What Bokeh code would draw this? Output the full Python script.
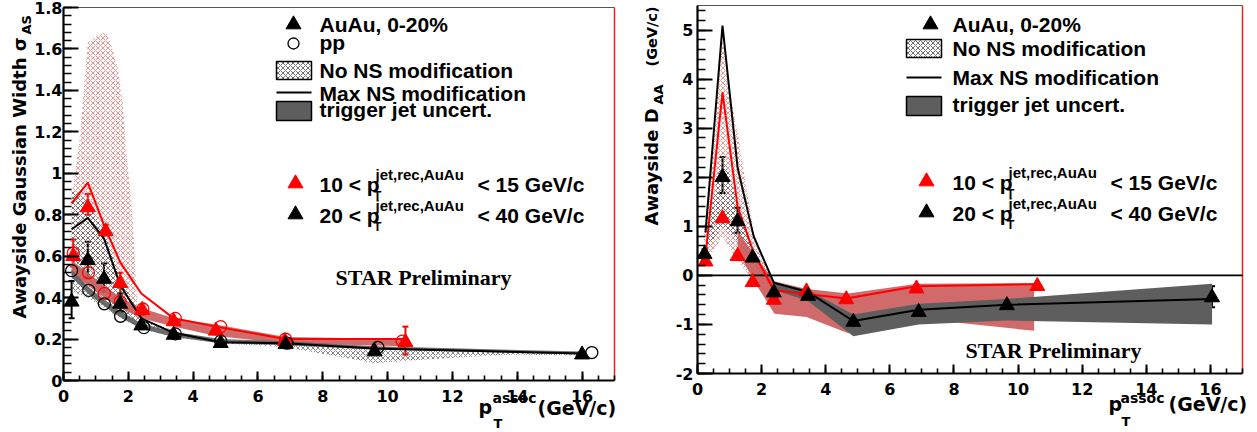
import math
from bokeh.plotting import figure
from bokeh.layouts import row
from bokeh.models import (Label, Whisker, ColumnDataSource, TeeHead, LinearAxis,
                          FixedTicker, CustomJSTickFormatter, Range1d)
from bokeh.embed import file_html
from bokeh.resources import INLINE

# ------------------------------------------------------------------
# DATA  -- left panel: awayside gaussian width sigma_AS
# ------------------------------------------------------------------
sig_x_2040 = [0.25, 0.75, 1.25, 1.75, 2.4, 3.4, 4.85, 6.85, 9.6, 16.0]
sig_aa_2040 = [0.38, 0.58, 0.49, 0.37, 0.265, 0.22, 0.18, 0.175, 0.14, 0.125]
sig_aa_2040_lo = [0.30, 0.50, 0.43, 0.33, 0.255, 0.21, 0.172, 0.168, 0.132, 0.118]
sig_aa_2040_hi = [0.48, 0.67, 0.565, 0.42, 0.275, 0.23, 0.188, 0.182, 0.148, 0.132]
sig_pp_x_2040 = [0.25, 0.78, 1.26, 1.76, 2.48, 3.45, 4.85, 6.9, 9.7, 16.3]
sig_pp_2040 = [0.53, 0.435, 0.37, 0.31, 0.255, 0.225, 0.19, 0.18, 0.16, 0.135]
sig_max_2040 = [0.73, 0.785, 0.685, 0.46, 0.30, 0.23, 0.185, 0.18, 0.155, 0.13]
sig_nons_x_2040 = [0.25, 0.75, 1.25, 1.75, 2.4, 3.4, 4.85, 6.85, 9.6, 12.0, 13.9, 16.0]
sig_nons_hi_2040 = [0.93, 0.86, 0.72, 0.50, 0.30, 0.24, 0.19, 0.18, 0.155, 0.145, 0.138, 0.13]
sig_nons_lo_2040 = [0.43, 0.40, 0.35, 0.30, 0.25, 0.21, 0.18, 0.16, 0.085, 0.11, 0.125, 0.12]
sig_trig_hi_2040 = [0.535, 0.455, 0.39, 0.335, 0.275, 0.235, 0.20, 0.19, 0.165, 0.14]
sig_trig_lo_2040 = [0.50, 0.42, 0.36, 0.305, 0.25, 0.21, 0.18, 0.17, 0.15, 0.125]

sig_x_1015 = [0.3, 0.75, 1.3, 1.75, 2.43, 3.4, 4.7, 6.83, 10.55]
sig_aa_1015 = [0.60, 0.835, 0.72, 0.47, 0.34, 0.285, 0.24, 0.19, 0.185]
sig_aa_1015_lo = [0.55, 0.80, 0.70, 0.41, 0.325, 0.272, 0.228, 0.18, 0.125]
sig_aa_1015_hi = [0.68, 0.90, 0.75, 0.52, 0.355, 0.298, 0.252, 0.20, 0.26]
sig_pp_x_1015 = [0.3, 0.77, 1.26, 1.75, 2.45, 3.45, 4.85, 6.85, 10.45]
sig_pp_1015 = [0.615, 0.52, 0.42, 0.38, 0.345, 0.30, 0.26, 0.20, 0.19]
sig_max_x_1015 = [0.25, 0.75, 1.25, 1.75, 2.4, 3.4, 4.7, 6.85, 10.5]
sig_max_1015 = [0.855, 0.955, 0.75, 0.57, 0.42, 0.30, 0.26, 0.20, 0.20]
sig_nons_x_1015 = [0.25, 0.5, 0.75, 1.0, 1.3, 1.45, 1.67, 1.82, 1.97, 2.1, 2.2, 2.28]
sig_nons_hi_1015 = [0.87, 1.17, 1.63, 1.66, 1.68, 1.63, 1.51, 1.35, 1.05, 0.85, 0.6, 0.34]
sig_nons_lo_1015 = [0.56, 0.57, 0.58, 0.55, 0.50, 0.48, 0.45, 0.42, 0.40, 0.37, 0.35, 0.33]
sig_trig_x_1015 = [0.25, 0.75, 1.25, 1.75, 2.4, 3.4, 4.7, 6.85, 10.5]
sig_trig_hi_1015 = [0.58, 0.52, 0.46, 0.40, 0.35, 0.30, 0.27, 0.21, 0.20]
sig_trig_lo_1015 = [0.52, 0.46, 0.40, 0.35, 0.30, 0.26, 0.215, 0.18, 0.165]

# ------------------------------------------------------------------
# DATA  -- right panel: awayside D_AA (GeV/c)
# ------------------------------------------------------------------
d_x_2040 = [0.22, 0.78, 1.25, 1.72, 2.38, 3.45, 4.86, 6.9, 9.65, 16.05]
d_aa_2040 = [0.43, 2.0, 1.1, 0.36, -0.35, -0.42, -0.95, -0.75, -0.61, -0.45]
d_aa_2040_lo = [0.33, 1.68, 0.87, 0.28, -0.42, -0.48, -1.0, -0.8, -0.66, -0.65]
d_aa_2040_hi = [0.53, 2.41, 1.38, 0.44, -0.28, -0.36, -0.9, -0.7, -0.56, -0.22]
d_max_x_2040 = [0.25, 0.78, 1.25, 1.75, 2.38, 3.45, 4.86, 6.9, 9.65, 16.05]
d_max_2040 = [0.87, 5.09, 2.2, 0.8, -0.15, -0.34, -0.93, -0.7, -0.6, -0.48]
d_nons_x_2040 = [0.25, 0.78, 1.25, 1.75, 2.4]
d_nons_hi_2040 = [0.8, 2.5, 1.5, 0.5, -0.25]
d_nons_lo_2040 = [0.5, 1.0, 0.7, 0.2, -0.35]
d_trig_x_2040 = [2.4, 3.45, 4.86, 6.9, 9.65, 16.05]
d_trig_hi_2040 = [-0.15, -0.3, -0.8, -0.58, -0.48, -0.17]
d_trig_lo_2040 = [-0.3, -0.52, -1.24, -1.0, -0.92, -1.0]

d_x_1015 = [0.25, 0.78, 1.25, 1.72, 2.38, 3.4, 4.64, 6.83, 10.6]
d_aa_1015 = [0.28, 1.16, 0.39, -0.14, -0.5, -0.33, -0.49, -0.27, -0.22]
d_max_x_1015 = [0.25, 0.78, 1.25, 1.75, 2.38, 3.4, 4.64, 6.83, 10.5]
d_max_1015 = [0.4, 3.73, 1.4, 0.47, -0.3, -0.38, -0.47, -0.22, -0.18]
d_nons_x_1015 = [0.2, 0.5, 0.78, 1.05, 1.25, 1.5, 1.75, 2.05, 2.4]
d_nons_hi_1015 = [0.9, 2.9, 4.8, 3.6, 2.9, 1.9, 0.9, 0.3, -0.15]
d_nons_lo_1015 = [0.2, 0.5, 0.8, 0.5, 0.3, 0.1, -0.1, -0.3, -0.5]
d_trig_x_1015 = [1.25, 1.75, 2.4, 3.4, 4.7, 6.85, 10.5]
d_trig_hi_1015 = [0.9, 0.45, -0.12, -0.28, -0.37, -0.17, -0.16]
d_trig_lo_1015 = [0.5, -0.1, -0.78, -0.85, -1.18, -0.88, -1.13]

# tick labels
x_ticks = [0, 2, 4, 6, 8, 10, 12, 14, 16]
sig_ticks = [0, 0.2, 0.4, 0.6, 0.8, 1.0, 1.2, 1.4, 1.6, 1.8]
d_ticks = [-2, -1, 0, 1, 2, 3, 4, 5]

# ------------------------------------------------------------------
FONT = "DejaVu Sans"
LFONT = "Liberation Sans"
RED = "#ff0000"
RED_FILL = "#cc5a5a"
GRAY_FILL = "#5e5e5e"
RED_HATCH = "#e06a6a"
BLK_HATCH = "#555555"
H = 432

# page-pixel geometry of the two plot areas (canvas of each figure = full height)
L = dict(left=0, w=630, x0=63, x1=614, yt=7, yb=380, xr=(0, 17), yr=(0, 1.8), ystand=1)
R = dict(left=630, w=627, x0=697, x1=1242, yt=5, yb=373, xr=(0, 17), yr=(-2, 5.5), ystand=4)


def mk(g):
    sx = (g["x1"] - g["x0"]) / (g["xr"][1] - g["xr"][0])
    sy = (g["yb"] - g["yt"]) / (g["yr"][1] - g["yr"][0])

    def fx(px):
        return g["xr"][0] + (px - g["x0"]) / sx

    def fy(py):
        return g["yr"][0] + (g["yb"] - py) / sy
    return fx, fy


lx, ly = mk(L)
rx, ry = mk(R)


def make_fig(g, fx, fy, yticks, ymin_ticks):
    p = figure(width=g["w"], height=H, output_backend="svg", toolbar_location=None,
               x_range=Range1d(fx(g["left"]), fx(g["left"] + g["w"])),
               y_range=Range1d(fy(H), fy(0)),
               x_axis_type=None, y_axis_type=None,
               min_border_left=0, min_border_right=0, min_border_top=0, min_border_bottom=0)
    p.background_fill_color = "white"
    p.outline_line_color = None
    xa = LinearAxis(fixed_location=g["yr"][0], bounds=g["xr"],
                    ticker=FixedTicker(ticks=x_ticks, minor_ticks=[i * 0.5 for i in range(0, 35)]))
    ya = LinearAxis(fixed_location=g["xr"][0], bounds=g["yr"],
                    ticker=FixedTicker(ticks=yticks, minor_ticks=ymin_ticks))
    for ax in (xa, ya):
        ax.axis_line_width = 2.2
        ax.axis_line_color = "black"
        ax.major_tick_line_width = 2
        ax.minor_tick_line_width = 1.6
        ax.major_tick_out = 0
        ax.minor_tick_out = 0
        ax.major_label_text_font = FONT
        ax.major_label_text_font_style = "bold"
        ax.major_label_text_font_size = "16px"
        ax.major_label_text_color = "black"
    xa.major_tick_in = 9
    xa.minor_tick_in = 5
    xa.major_label_standoff = 9
    ya.major_tick_in = 15
    ya.minor_tick_in = 8
    ya.major_label_standoff = g["ystand"]
    ya.formatter = CustomJSTickFormatter(code="return (Math.round(tick*10)/10).toString();")
    p.add_layout(xa, "below")
    p.add_layout(ya, "left")
    # frame: grey top edge, red right edge
    p.line(list(g["xr"]), [g["yr"][1]] * 2, line_color="#555555", line_width=1)
    p.line([g["xr"][1]] * 2, list(g["yr"]), line_color="#ee2020", line_width=1.5)
    return p


def ptxt(p, fx, fy, px, py, s, size, color="black", font=FONT, rotated=False):
    """text whose baseline starts at page pixel (px, py); anchored on its middle"""
    off = 0.35 * size
    if rotated:
        x, y, ang = fx(px - off), fy(py), math.pi / 2
    else:
        x, y, ang = fx(px), fy(py - off), 0.0
    p.add_layout(Label(x=x, y=y, text=s, text_font=font, text_font_size=f"{size}px",
                       text_font_style="bold", text_color=color, text_align="left",
                       text_baseline="middle", angle=ang))


def errbars(p, xs, lo, hi, color):
    src = ColumnDataSource(dict(x=xs, lo=lo, hi=hi))
    w = Whisker(source=src, base="x", lower="lo", upper="hi", line_color=color, line_width=2,
                upper_head=TeeHead(size=6, line_color=color, line_width=2),
                lower_head=TeeHead(size=6, line_color=color, line_width=2))
    p.add_layout(w)


def legend_block(p, fx, fy, sym_x, box_l, box_r, tx, rows, include_pp):
    fs = 21
    p.scatter([fx(sym_x)], [fy(rows["aa"])], marker="triangle", size=15, color="black")
    ptxt(p, fx, fy, tx, rows["aa_t"], "AuAu, 0-20%", fs, font=LFONT)
    if include_pp:
        p.scatter([fx(sym_x)], [fy(rows["pp"])], marker="circle", size=11, fill_alpha=0,
                  line_color="black", line_width=1.3)
        ptxt(p, fx, fy, tx, rows["pp_t"], "pp", fs, font=LFONT)
    p.quad(left=[fx(box_l)], right=[fx(box_r)], top=[fy(rows["hb"][0])], bottom=[fy(rows["hb"][1])],
           fill_color="white", hatch_pattern="x", hatch_color="#333333", hatch_scale=5,
           hatch_weight=0.7, line_color="black", line_width=1.5)
    ptxt(p, fx, fy, tx, rows["hb_t"], "No NS modification", fs, font=LFONT)
    p.line([fx(box_l), fx(box_r)], [fy(rows["ln"])] * 2, line_color="black", line_width=2)
    ptxt(p, fx, fy, tx, rows["ln_t"], "Max NS modification", fs, font=LFONT)
    p.quad(left=[fx(box_l)], right=[fx(box_r)], top=[fy(rows["gb"][0])], bottom=[fy(rows["gb"][1])],
           fill_color=GRAY_FILL, line_color="black", line_width=1.5)
    ptxt(p, fx, fy, tx, rows["gb_t"], "trigger jet uncert.", fs, font=LFONT)
    for key, col, lo, hi in (("r1", RED, "10", "15"), ("r2", "black", "20", "40")):
        sy, by = rows[key]
        p.scatter([fx(rows["tri_x"])], [fy(sy)], marker="triangle", size=15, color=col)
        ptxt(p, fx, fy, tx, by, f"{lo} < p", fs, font=LFONT)
        ptxt(p, fx, fy, tx + rows["sup_dx"], by - 12, "jet,rec,AuAu", 15, font=LFONT)
        ptxt(p, fx, fy, tx + rows["sup_dx"] - 2, by + 9, "T", 13, font=LFONT)
        ptxt(p, fx, fy, tx + rows["rest_dx"], by, f"< {hi} GeV/c", fs, font=LFONT)


def star_label(p, x, y):
    p.add_layout(Label(x=x, y=y, text="STAR Preliminary", text_font="Liberation Serif",
                       text_font_size="22px", text_font_style="bold", text_color="black",
                       text_align="center", text_baseline="middle"))


# ================= LEFT PANEL =================
pl = make_fig(L, lx, ly, sig_ticks, [i * 0.04 for i in range(0, 46)])

pl.varea(x=sig_nons_x_1015, y1=sig_nons_lo_1015, y2=sig_nons_hi_1015, fill_alpha=0,
         hatch_pattern="x", hatch_color=RED_HATCH, hatch_scale=5, hatch_weight=0.7)
pl.varea(x=sig_nons_x_2040, y1=sig_nons_lo_2040, y2=sig_nons_hi_2040, fill_alpha=0,
         hatch_pattern="x", hatch_color=BLK_HATCH, hatch_scale=5, hatch_weight=0.7)
pl.varea(x=sig_trig_x_1015, y1=sig_trig_lo_1015, y2=sig_trig_hi_1015, fill_color=RED_FILL, fill_alpha=0.9)
pl.varea(x=sig_x_2040, y1=sig_trig_lo_2040, y2=sig_trig_hi_2040, fill_color=GRAY_FILL, fill_alpha=0.9)
pl.line(sig_max_x_1015, sig_max_1015, line_color=RED, line_width=2)
pl.line(sig_x_2040, sig_max_2040, line_color="black", line_width=2)
pl.scatter(sig_pp_x_1015, sig_pp_1015, marker="circle", size=12, fill_alpha=0, line_color=RED, line_width=1.3)
pl.scatter(sig_pp_x_2040, sig_pp_2040, marker="circle", size=12, fill_alpha=0, line_color="black", line_width=1.3)
errbars(pl, sig_x_1015, sig_aa_1015_lo, sig_aa_1015_hi, RED)
errbars(pl, sig_x_2040, sig_aa_2040_lo, sig_aa_2040_hi, "black")
pl.scatter(sig_x_1015, sig_aa_1015, marker="triangle", size=15, color=RED)
pl.scatter(sig_x_2040, sig_aa_2040, marker="triangle", size=15, color="black")

legend_block(pl, lx, ly, 293, 276, 311, 319,
             dict(aa=24, aa_t=31, pp=43, pp_t=49, hb=(61, 79), hb_t=77, ln=92, ln_t=100,
                  gb=(101, 120), gb_t=116, tri_x=295, r1=(183, 191), r2=(214, 222),
                  sup_dx=56, rest_dx=158),
             True)
star_label(pl, lx(423), ly(277))
# axis titles
ptxt(pl, lx, ly, 25, 318, "Awayside Gaussian Width σ", 18, rotated=True)
ptxt(pl, lx, ly, 31, 34, "AS", 13, rotated=True)
ptxt(pl, lx, ly, 478, 413, "p", 19)
ptxt(pl, lx, ly, 492, 402, "assoc", 14)
ptxt(pl, lx, ly, 493, 428, "T", 13)
ptxt(pl, lx, ly, 537, 414, "(GeV/c)", 19)

# ================= RIGHT PANEL =================
pr = make_fig(R, rx, ry, d_ticks, [-2 + i * 0.2 for i in range(0, 38)])

pr.varea(x=d_nons_x_1015, y1=d_nons_lo_1015, y2=d_nons_hi_1015, fill_alpha=0,
         hatch_pattern="x", hatch_color=RED_HATCH, hatch_scale=5, hatch_weight=0.7)
pr.varea(x=d_nons_x_2040, y1=d_nons_lo_2040, y2=d_nons_hi_2040, fill_alpha=0,
         hatch_pattern="x", hatch_color=BLK_HATCH, hatch_scale=5, hatch_weight=0.7)
pr.varea(x=d_trig_x_1015, y1=d_trig_lo_1015, y2=d_trig_hi_1015, fill_color=RED_FILL, fill_alpha=0.9)
pr.varea(x=d_trig_x_2040, y1=d_trig_lo_2040, y2=d_trig_hi_2040, fill_color=GRAY_FILL, fill_alpha=1.0)
pr.line(list(R["xr"]), [0, 0], line_color="black", line_width=1.6)
pr.line(d_max_x_1015, d_max_1015, line_color=RED, line_width=2)
pr.line(d_max_x_2040, d_max_2040, line_color="black", line_width=2)
errbars(pr, d_x_2040, d_aa_2040_lo, d_aa_2040_hi, "black")
pr.scatter(d_x_1015, d_aa_1015, marker="triangle", size=15, color=RED)
pr.scatter(d_x_2040, d_aa_2040, marker="triangle", size=15, color="black")

legend_block(pr, rx, ry, 930, 906, 941, 952,
             dict(aa=24, aa_t=31, hb=(39, 57), hb_t=55, ln=77, ln_t=84,
                  gb=(96, 115), gb_t=111, tri_x=926, r1=(181, 189), r2=(212, 220),
                  sup_dx=56, rest_dx=158),
             False)
star_label(pr, rx(1053), ry(350))
ptxt(pr, rx, ry, 657, 225, "Awayside D", 18, rotated=True)
ptxt(pr, rx, ry, 663, 104, "AA", 13, rotated=True)
ptxt(pr, rx, ry, 657, 66, "(GeV/c)", 14.5, rotated=True)
ptxt(pr, rx, ry, 1108, 410, "p", 19)
ptxt(pr, rx, ry, 1120, 402, "assoc", 14)
ptxt(pr, rx, ry, 1121, 426, "T", 13)
ptxt(pr, rx, ry, 1168, 410, "(GeV/c)", 19)

layout = row(pl, pr)
open("out.html", "w").write(file_html(layout, INLINE))
